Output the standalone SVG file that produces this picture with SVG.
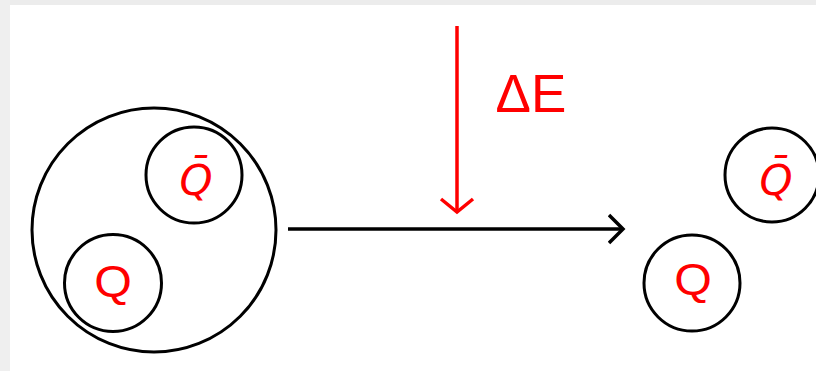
<svg xmlns="http://www.w3.org/2000/svg" width="816" height="371" viewBox="0 0 816 371">
<style>
.c{fill:none;stroke:#000;stroke-width:3}
.t{fill:#f00;font-family:"Liberation Sans",Arial,sans-serif;text-anchor:middle}
.q{font-size:44px}
.qb{font-size:42px;font-style:italic;font-family:"DejaVu Sans","Liberation Sans",sans-serif}
</style>
<defs>
<marker id="ah" markerWidth="20" markerHeight="32" refX="15" refY="16" orient="auto" markerUnits="userSpaceOnUse">
<path d="M1,2 L15,16 L1,30" fill="none" stroke="#000" stroke-width="3.5"/>
</marker>
<marker id="ahr" markerWidth="20" markerHeight="36" refX="15" refY="18" orient="auto" markerUnits="userSpaceOnUse">
<path d="M2,2 L15,18 L2,34" fill="none" stroke="#f00" stroke-width="3.5"/>
</marker>
</defs>
<rect width="816" height="371" fill="#fff"/>
<rect width="816" height="5" fill="#ececec"/>
<rect width="10" height="371" fill="#efefef"/>
<g id="meson">
<circle class="c" cx="154" cy="230" r="122"/>
</g>
<g id="q-bar-bound">
<circle class="c" cx="194" cy="175" r="48"/>
<text class="t qb" x="196" y="195">Q̄</text>
</g>
<g id="q-bound">
<circle class="c" cx="113" cy="283" r="48.5"/>
<text class="t q" transform="translate(113 297) scale(1.1 1)">Q</text>
</g>
<g id="q-free">
<circle class="c" cx="692" cy="283" r="48"/>
<text class="t q" transform="translate(693 295) scale(1.1 1)">Q</text>
</g>
<g id="q-bar-free">
<circle class="c" cx="772" cy="175" r="47"/>
<text class="t qb" x="776" y="195">Q̄</text>
</g>
<g id="connectors">
<line x1="288" y1="229" x2="623" y2="229" stroke="#000" stroke-width="3.5" marker-end="url(#ah)"/>
<line x1="457" y1="26" x2="457" y2="212" stroke="#f00" stroke-width="3.5" marker-end="url(#ahr)"/>
</g>
<text class="t" x="531" y="112" style="font-size:53px">ΔE</text>
</svg>
